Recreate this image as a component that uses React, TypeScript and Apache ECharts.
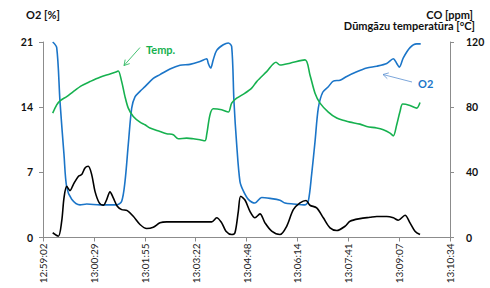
import React, { useEffect, useRef } from "react";
import * as echarts from "echarts";

// x values are seconds after 12:59:02
const tickLabels = [
  "12:59:02", "13:00:29", "13:01:55", "13:03:22", "13:04:48",
  "13:06:14", "13:07:41", "13:09:07", "13:10:34",
];
const tickStep = 86.5;
const totalSeconds = 692;

const o2Data: [number, number][] = [
  [16.5, 21.0], [23.3, 20.4], [28.9, 14.6], [35.7, 8.9], [40.3, 5.4], [48.8, 4.1],
  [62.9, 3.5], [74.3, 3.6], [96.9, 3.5], [125.3, 3.5], [133.8, 3.9], [139.4, 6.0],
  [145.0, 10.0], [150.8, 13.9], [156.4, 15.1], [164.9, 15.7], [173.4, 16.2],
  [187.5, 17.1], [198.9, 17.5], [215.9, 18.1], [232.9, 18.5], [249.9, 18.6],
  [266.9, 18.9], [278.3, 19.2], [281.0, 18.7], [285.1, 18.2], [289.5, 19.1],
  [295.3, 20.1], [306.5, 20.7], [315.1, 20.9], [320.8, 20.5], [324.7, 14.6],
  [329.3, 10.0], [334.9, 6.0], [340.6, 5.0], [349.1, 4.1], [360.4, 3.7],
  [371.8, 4.3], [385.9, 4.2], [402.9, 4.0], [411.4, 3.7], [425.6, 3.6],
  [445.5, 3.5], [451.1, 3.9], [456.8, 6.8], [462.5, 10.3], [468.1, 13.9],
  [475.6, 15.6], [485.1, 16.2], [493.6, 16.8], [505.0, 16.9], [516.4, 17.3],
  [533.4, 17.8], [550.4, 18.2], [567.4, 18.4], [584.4, 18.7], [595.6, 19.2],
  [601.4, 18.7], [605.8, 18.3], [612.6, 19.3], [624.0, 20.4], [635.4, 20.8],
  [642.2, 20.8],
];

const tempData: [number, number][] = [
  [16.5, 76.3], [23.3, 81.4], [28.9, 83.9], [40.3, 86.5], [51.5, 89.6], [65.8, 93.2],
  [79.9, 95.7], [96.9, 98.4], [113.9, 100.4], [125.3, 101.8], [128.0, 102.2],
  [133.8, 95.7], [139.4, 86.5], [145.0, 79.4], [153.5, 74.3], [164.9, 70.8],
  [173.4, 69.2], [181.9, 67.2], [198.9, 65.1], [210.3, 63.7], [221.5, 63.1],
  [230.0, 60.6], [244.3, 61.0], [255.5, 60.6], [266.9, 60.0], [275.4, 59.4],
  [278.3, 63.1], [283.9, 75.3], [289.5, 79.0], [303.8, 78.4], [315.1, 77.0],
  [320.8, 82.5], [329.3, 85.5], [343.4, 88.6], [354.8, 91.7], [363.3, 95.7],
  [380.3, 101.8], [396.2, 107.6], [402.9, 105.9], [419.9, 107.0], [445.5, 109.0],
  [453.9, 99.8], [462.5, 88.6], [471.0, 82.5], [485.1, 77.0], [499.4, 73.3],
  [513.5, 71.6], [522.0, 70.8], [539.0, 69.6], [550.4, 68.1], [567.4, 67.2],
  [578.6, 66.1], [590.0, 64.1], [595.6, 62.4], [601.4, 69.2], [607.0, 77.3],
  [611.6, 81.9], [624.0, 81.0], [635.4, 79.4], [641.0, 82.8],
];

const coData: [number, number][] = [
  [16.5, 2.9], [26.0, 0.8], [31.8, 10.0], [35.7, 24.3], [40.3, 31.4], [45.9, 28.8],
  [51.5, 32.5], [60.0, 37.5], [65.8, 38.6], [71.4, 42.7], [77.0, 43.7], [82.8, 38.6],
  [88.4, 28.3], [95.7, 21.2], [102.5, 19.8], [108.3, 23.3], [113.9, 28.0],
  [119.5, 24.3], [126.3, 19.2], [133.8, 17.1], [143.3, 16.5], [153.5, 13.0],
  [164.9, 8.0], [176.3, 5.5], [187.5, 6.3], [198.9, 9.0], [210.3, 9.6], [232.9, 9.6],
  [266.9, 9.6], [286.8, 9.6], [295.3, 12.1], [303.8, 9.0], [311.1, 3.9],
  [320.8, 1.8], [326.4, 2.9], [332.1, 16.1], [336.1, 25.3], [343.4, 23.0],
  [351.9, 16.1], [360.4, 12.1], [368.9, 14.5], [377.4, 9.0], [388.8, 3.9],
  [402.9, 1.8], [414.3, 6.9], [425.6, 17.1], [437.0, 21.2], [447.2, 22.7],
  [453.9, 19.8], [465.3, 18.2], [476.6, 12.1], [488.0, 5.9], [499.4, 4.3],
  [513.5, 6.9], [522.0, 10.0], [539.0, 11.6], [556.0, 12.4], [567.4, 12.9],
  [584.4, 12.9], [595.6, 12.1], [604.1, 10.6], [615.5, 13.7], [624.0, 9.0],
  [632.5, 3.9], [641.0, 1.8],
];

const FONT = "Lato";
const BLUE = "#1b75c8";
const GREEN = "#16b14f";
const AXIS = "#8c8c8c";

export default function App() {
  const ref = useRef<HTMLDivElement>(null);
  useEffect(() => {
    if (!ref.current) return;
    const chart = echarts.init(ref.current, null, { renderer: "svg" });
    const axisLineStyle = { show: true, lineStyle: { color: AXIS, width: 1 } };
    chart.setOption({
      animation: false,
      textStyle: { fontFamily: FONT },
      grid: { left: 43, right: 40, top: 42, bottom: 50.5, containLabel: false },
      xAxis: {
        type: "value",
        min: 0,
        max: totalSeconds,
        interval: tickStep,
        axisLine: axisLineStyle,
        axisTick: { show: true, length: 4, lineStyle: { color: AXIS } },
        splitLine: { show: false },
        axisLabel: {
          rotate: 90,
          fontSize: 10,
          color: "#222",
          fontFamily: FONT,
          margin: 6,
          formatter: (v: number) => tickLabels[Math.round(v / tickStep)] ?? "",
        },
      },
      yAxis: [
        {
          type: "value",
          min: 0,
          max: 21,
          interval: 7,
          position: "left",
          axisLine: axisLineStyle,
          axisTick: { show: true, length: 4, lineStyle: { color: AXIS } },
          splitLine: { show: false },
          axisLabel: { fontSize: 10.5, fontWeight: "bold", color: "#111", fontFamily: FONT, margin: 10 },
        },
        {
          type: "value",
          min: 0,
          max: 120,
          interval: 40,
          position: "right",
          axisLine: axisLineStyle,
          axisTick: { show: true, length: 4, lineStyle: { color: AXIS } },
          splitLine: { show: false },
          axisLabel: { fontSize: 10.5, fontWeight: "bold", color: "#111", fontFamily: FONT, margin: 16 },
        },
      ],
      series: [
        {
          type: "line",
          name: "O2",
          yAxisIndex: 0,
          data: o2Data,
          smooth: 0.3,
          showSymbol: false,
          lineStyle: { color: BLUE, width: 1.6 },
        },
        {
          type: "line",
          name: "Temp.",
          yAxisIndex: 1,
          data: tempData,
          smooth: 0.3,
          showSymbol: false,
          lineStyle: { color: GREEN, width: 1.6 },
        },
        {
          type: "line",
          name: "CO",
          yAxisIndex: 1,
          data: coData,
          smooth: 0.3,
          showSymbol: false,
          lineStyle: { color: "#000", width: 1.6 },
        },
      ],
      graphic: [
        {
          type: "text",
          x: 26,
          y: 14,
          style: { text: "O2 [%]", fontFamily: FONT, fontSize: 11, fontWeight: "bold", fill: "#111", verticalAlign: "middle" },
        },
        {
          type: "text",
          x: 473,
          y: 14,
          style: { text: "CO [ppm]", fontFamily: FONT, fontSize: 11, fontWeight: "bold", fill: "#111", align: "right", verticalAlign: "middle" },
        },
        {
          type: "text",
          x: 475,
          y: 25.5,
          style: { text: "Dūmgāzu temperatūra [°C]", fontFamily: FONT, fontSize: 11, fontWeight: "bold", fill: "#111", align: "right", verticalAlign: "middle" },
        },
        {
          type: "text",
          x: 146,
          y: 49,
          style: { text: "Temp.", fontFamily: FONT, fontSize: 11, fontWeight: "bold", fill: GREEN, verticalAlign: "middle" },
        },
        {
          type: "line",
          shape: { x1: 140, y1: 47.5, x2: 124, y2: 65.5 },
          style: { stroke: GREEN, lineWidth: 0.8 },
        },
        {
          type: "polyline",
          shape: { points: [[129.7, 63.6], [124, 65.5], [125.2, 59.6]] },
          style: { stroke: GREEN, lineWidth: 0.8, fill: "none" },
        },
        {
          type: "text",
          x: 418,
          y: 83,
          style: { text: "O2", fontFamily: FONT, fontSize: 11, fontWeight: "bold", fill: BLUE, verticalAlign: "middle" },
        },
        {
          type: "line",
          shape: { x1: 412, y1: 82, x2: 383, y2: 74.5 },
          style: { stroke: "#5b8fd0", lineWidth: 0.8 },
        },
        {
          type: "polyline",
          shape: { points: [[387.3, 78.7], [383, 74.5], [388.8, 72.9]] },
          style: { stroke: "#5b8fd0", lineWidth: 0.8, fill: "none" },
        },
      ],
    });
    return () => chart.dispose();
  }, []);
  return (
    <div
      ref={ref}
      style={{ position: "fixed", left: 0, top: 0, width: 490, height: 288, background: "#fff" }}
    />
  );
}
